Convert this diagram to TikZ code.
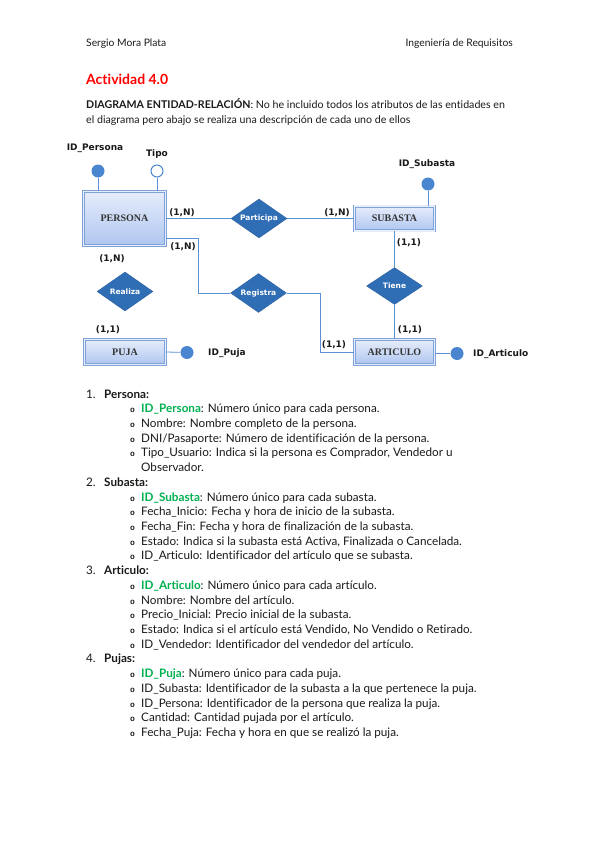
\documentclass[tikz,border=0pt]{standalone}
\usepackage{fontspec}
\setmainfont{Lato}[Ligatures={NoCommon,NoRequired,NoContextual}]
\newfontfamily\erfont{DejaVu Sans}
\newfontfamily\entfont{Liberation Serif}
\newfontfamily\monofnt{Liberation Mono}
\usetikzlibrary{shapes.geometric}
\definecolor{lineblue}{HTML}{5B8FD6}
\definecolor{dotblue}{HTML}{4A86D0}
\definecolor{diablue}{HTML}{2F6DB5}
\definecolor{boxedge}{HTML}{7FA2DA}
\definecolor{boxtop}{HTML}{E6EDFB}
\definecolor{boxbot}{HTML}{AFC6F0}
\definecolor{okgreen}{HTML}{00B050}
\definecolor{txt}{HTML}{1A1A1A}
\tikzset{
  entity/.style={rectangle, draw=boxedge, line width=0.6pt, double=boxtop, double distance=1.6pt,
    top color=boxtop, bottom color=boxbot, inner sep=0pt,
    font=\entfont\bfseries\fontsize{10}{10}\selectfont, text=black!80},
  rel/.style={diamond, aspect=1.45, fill=diablue, draw=diablue!85!black, line width=0.3pt, inner sep=0pt,
    minimum width=56pt, minimum height=39pt,
    font=\erfont\bfseries\fontsize{7.5}{8}\selectfont, text=white},
  keydot/.style={circle, fill=dotblue, inner sep=0pt, minimum size=13pt},
  opendot/.style={circle, draw=dotblue, fill=white, line width=1pt, inner sep=0pt, minimum size=12pt},
  conn/.style={draw=lineblue, line width=0.8pt},
  erlab/.style={inner sep=0pt, font=\erfont\bfseries\fontsize{9}{10}\selectfont, text=txt},
  body/.style={inner sep=0pt, anchor=base west, font=\fontsize{11.7}{13}\selectfont, text=txt},
  bodyb/.style={body, font=\bfseries\fontsize{11.7}{13}\selectfont},
  bul/.style={inner sep=0pt, anchor=base, font=\monofnt\bfseries\fontsize{8}{10}\selectfont, text=txt},
  hdr/.style={inner sep=0pt, anchor=base west, font=\fontsize{10.3}{12}\selectfont, text=txt},
  para/.style={inner sep=0pt, anchor=base west, font=\fontsize{10.65}{12}\selectfont, text=txt},
}
\begin{document}
\begin{tikzpicture}[x=1pt,y=-1pt]
\useasboundingbox[fill=white] (0,0) rectangle (599,848);

% header
\node[hdr] (h1) at (86,46.5) {Sergio Mora Plata};
\node[hdr, anchor=base east] (h2) at (513,46.5) {Ingeniería de Requisitos};
\node[inner sep=0pt, anchor=base west, font=\bfseries\fontsize{14}{16}\selectfont, text=red] (title) at (86,85) {Actividad 4.0};
\node[para] (p1) at (86,109) {\textbf{DIAGRAMA ENTIDAD-RELACIÓN}: No he incluido todos los atributos de las entidades en};
\node[para] (p2) at (86,124) {el diagrama pero abajo se realiza una descripción de cada uno de ellos};

% entities
\node[entity, minimum width=82pt, minimum height=54pt] (persona) at (124.5,218.5) {PERSONA};
\node[entity, minimum width=80pt, minimum height=24.5pt] (subasta) at (394.5,218.5) {SUBASTA};
\node[entity, minimum width=81pt, minimum height=25pt] (puja) at (125,352) {PUJA};
\node[entity, minimum width=80pt, minimum height=25pt] (articulo) at (394.5,352) {ARTICULO};

% relationships
\node[rel] (participa) at (259,218.5) {Participa};
\node[rel] (registra) at (258.5,293) {Registra};
\node[rel] (realiza) at (125,291.5) {Realiza};
\node[rel, minimum height=37pt] (tiene) at (394.5,286) {Tiene};

% attributes
\node[keydot] (pid) at (98,171) {};
\node[opendot] (tipo) at (157,171) {};
\node[keydot] (sid) at (428,184) {};
\node[keydot] (jid) at (187,352.5) {};
\node[keydot] (aid) at (457,353.5) {};

\node[erlab] (lpid) at (95,148) {ID\_Persona};
\node[erlab] (ltipo) at (157,154) {Tipo};
\node[erlab] (lsid) at (427,164) {ID\_Subasta};
\node[erlab, anchor=west] (ljid) at (208,353) {ID\_Puja};
\node[erlab, anchor=west] (laid) at (473,354.5) {ID\_Articulo};

% cardinalities
\node[erlab] (c1) at (182,213) {(1,N)};
\node[erlab] (c2) at (183,247) {(1,N)};
\node[erlab] (c3) at (112,259) {(1,N)};
\node[erlab] (c4) at (337,213) {(1,N)};
\node[erlab] (c5) at (409,243) {(1,1)};
\node[erlab] (c6) at (108,330) {(1,1)};
\node[erlab] (c7) at (410,330) {(1,1)};
\node[erlab] (c8) at (334,345) {(1,1)};

% connectors
\draw[conn] (pid) -- (pid |- persona.north);
\draw[conn] (tipo) -- (tipo |- persona.north);
\draw[conn] (sid) -- (sid |- subasta.north);
\draw[conn] (puja.east) -- (jid);
\draw[conn] (articulo.east |- aid) -- (aid);
\draw[conn] (persona.east) -- (participa.west);
\draw[conn] (participa.east) -- (subasta.west);
\coordinate (rj1) at (198,238);
\coordinate (rj2) at (320,352);
\draw[conn] (persona.east |- rj1) -- (rj1) -- (rj1 |- registra.west) -- (registra.west);
\draw[conn] (registra.east) -- (rj2 |- registra.east) -- (rj2) -- (articulo.west);
\draw[conn] (subasta.south) -- (tiene.north);
\draw[conn] (tiene.south) -- (articulo.north);

% list
\def\L{14.72}
\def\BX{132.5}
\node[body] (n1) at (86,{398+0*\L}) {1.};
\node[bodyb] (s1) at (104,{398+0*\L}) {Persona:};
\node[bul] (b1) at (\BX,{398+1*\L}) {o};
\node[body] (t1) at (141,{398+1*\L}) {\textcolor{okgreen}{\textbf{ID\_Persona}}: Número único para cada persona.};
\node[bul] (b2) at (\BX,{398+2*\L}) {o};
\node[body] (t2) at (141,{398+2*\L}) {Nombre: Nombre completo de la persona.};
\node[bul] (b3) at (\BX,{398+3*\L}) {o};
\node[body] (t3) at (141,{398+3*\L}) {DNI/Pasaporte: Número de identificación de la persona.};
\node[bul] (b4) at (\BX,{398+4*\L}) {o};
\node[body] (t4) at (141,{398+4*\L}) {Tipo\_Usuario: Indica si la persona es Comprador, Vendedor u};
\node[body] (t5) at (141,{398+5*\L}) {Observador.};
\node[body] (n2) at (86,{398+6*\L}) {2.};
\node[bodyb] (s2) at (104,{398+6*\L}) {Subasta:};
\node[bul] (b6) at (\BX,{398+7*\L}) {o};
\node[body] (t6) at (141,{398+7*\L}) {\textcolor{okgreen}{\textbf{ID\_Subasta}}: Número único para cada subasta.};
\node[bul] (b7) at (\BX,{398+8*\L}) {o};
\node[body] (t7) at (141,{398+8*\L}) {Fecha\_Inicio: Fecha y hora de inicio de la subasta.};
\node[bul] (b8) at (\BX,{398+9*\L}) {o};
\node[body] (t8) at (141,{398+9*\L}) {Fecha\_Fin: Fecha y hora de finalización de la subasta.};
\node[bul] (b9) at (\BX,{398+10*\L}) {o};
\node[body] (t9) at (141,{398+10*\L}) {Estado: Indica si la subasta está Activa, Finalizada o Cancelada.};
\node[bul] (b10) at (\BX,{398+11*\L}) {o};
\node[body] (t10) at (141,{398+11*\L}) {ID\_Articulo: Identificador del artículo que se subasta.};
\node[body] (n3) at (86,{398+12*\L}) {3.};
\node[bodyb] (s3) at (104,{398+12*\L}) {Articulo:};
\node[bul] (b11) at (\BX,{398+13*\L}) {o};
\node[body] (t11) at (141,{398+13*\L}) {\textcolor{okgreen}{\textbf{ID\_Articulo}}: Número único para cada artículo.};
\node[bul] (b12) at (\BX,{398+14*\L}) {o};
\node[body] (t12) at (141,{398+14*\L}) {Nombre: Nombre del artículo.};
\node[bul] (b13) at (\BX,{398+15*\L}) {o};
\node[body] (t13) at (141,{398+15*\L}) {Precio\_Inicial: Precio inicial de la subasta.};
\node[bul] (b14) at (\BX,{398+16*\L}) {o};
\node[body] (t14) at (141,{398+16*\L}) {Estado: Indica si el artículo está Vendido, No Vendido o Retirado.};
\node[bul] (b15) at (\BX,{398+17*\L}) {o};
\node[body] (t15) at (141,{398+17*\L}) {ID\_Vendedor: Identificador del vendedor del artículo.};
\node[body] (n4) at (86,{398+18*\L}) {4.};
\node[bodyb] (s4) at (104,{398+18*\L}) {Pujas:};
\node[bul] (b16) at (\BX,{398+19*\L}) {o};
\node[body] (t16) at (141,{398+19*\L}) {\textcolor{okgreen}{\textbf{ID\_Puja}}: Número único para cada puja.};
\node[bul] (b17) at (\BX,{398+20*\L}) {o};
\node[body] (t17) at (141,{398+20*\L}) {ID\_Subasta: Identificador de la subasta a la que pertenece la puja.};
\node[bul] (b18) at (\BX,{398+21*\L}) {o};
\node[body] (t18) at (141,{398+21*\L}) {ID\_Persona: Identificador de la persona que realiza la puja.};
\node[bul] (b19) at (\BX,{398+22*\L}) {o};
\node[body] (t19) at (141,{398+22*\L}) {Cantidad: Cantidad pujada por el artículo.};
\node[bul] (b20) at (\BX,{398+23*\L}) {o};
\node[body] (t20) at (141,{398+23*\L}) {Fecha\_Puja: Fecha y hora en que se realizó la puja.};
\end{tikzpicture}
\end{document}
